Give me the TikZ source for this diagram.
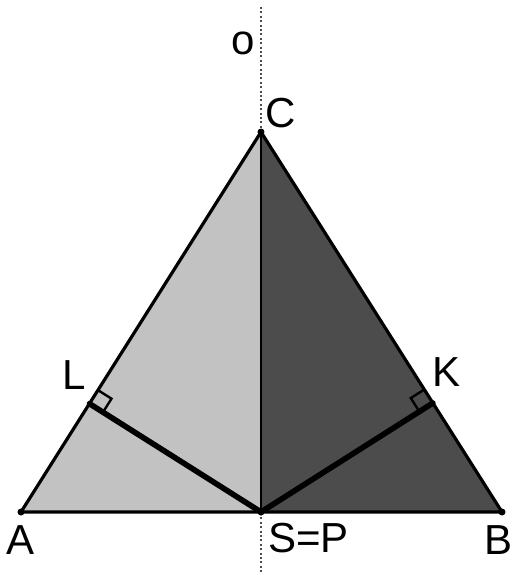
\documentclass[tikz,border=0pt]{standalone}
\usepackage{fontspec}
\setmainfont{Liberation Sans}
\usepackage{tikz}
\usetikzlibrary{calc}
\tikzset{
  side/.style={line width=1.6pt,line join=round},
  foot/.style={line width=2.8pt,line cap=round},
  axis/.style={line width=0.6pt,dash pattern=on 1pt off 1.2pt,black!70},
  rmark/.style={line width=1.2pt},
  vtx/.style={circle,fill=black,inner sep=0pt,minimum size=3.5pt},
  lbl/.style={font=\fontsize{21}{25}\selectfont,inner sep=0pt},
}

\begin{document}
\begin{tikzpicture}[x=0.5pt,y=-0.5pt]
\useasboundingbox (0,0) rectangle (515,575);
% the triangle and its base point
\coordinate (A) at (21,512);
\coordinate (B) at (502,512);
\coordinate (C) at (261,132);
\coordinate (S) at (261,512);
% feet of the perpendiculars from S
\coordinate (L) at ($(A)!(S)!(C)$);
\coordinate (K) at ($(B)!(S)!(C)$);
% the two halves
\fill[black!24] (A) -- (S) -- (C) -- cycle;
\fill[black!70] (S) -- (B) -- (C) -- cycle;
% axis o
\coordinate (otop) at (261,7);
\coordinate (obot) at (261,575);
\draw[axis] (otop) -- (obot);
\draw[line width=1pt] (S) -- (C);
\draw[side] (A) -- (B) -- (C) -- cycle;
% perpendiculars
\draw[foot] (L) -- (S) -- (K);
% right angle marks
\coordinate (l1) at ($(L)!8pt!(C)$);
\coordinate (l2) at ($(L)!8pt!(S)$);
\draw[rmark] (l1) -- ($(l1)+(l2)-(L)$) -- (l2);
\coordinate (k1) at ($(K)!8pt!(C)$);
\coordinate (k2) at ($(K)!8pt!(S)$);
\draw[rmark] (k1) -- ($(k1)+(k2)-(K)$) -- (k2);
% points
\foreach \p in {A,B,C,S} \node[vtx] at (\p) {};
% labels
\node[lbl] (lo) at (243,43) {o};
\node[lbl] (lC) at (281,113) {C};
\node[lbl] (lA) at (21,540) {A};
\node[lbl] (lB) at (499,540) {B};
\node[lbl] (lL) at (74,375) {L};
\node[lbl] (lK) at (447,372) {K};
\node[lbl,anchor=west] (lS) at (268,538) {S=P};
\end{tikzpicture}
\end{document}
